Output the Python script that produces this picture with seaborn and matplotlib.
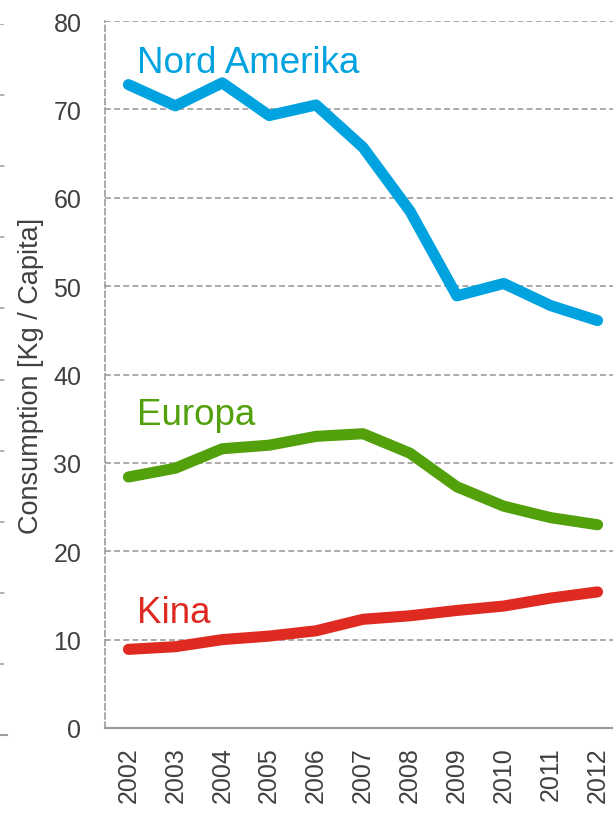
import pandas as pd
import numpy as np
import seaborn as sns
import matplotlib.pyplot as plt

# values (kg per capita)
years = ['2002', '2003', '2004', '2005', '2006', '2007', '2008', '2009', '2010', '2011', '2012']
nord_amerika = [72.8, 70.4, 73.0, 69.3, 70.5, 65.7, 58.5, 48.9, 50.3, 47.8, 46.1]
europa = [28.4, 29.4, 31.6, 32.0, 33.0, 33.3, 31.1, 27.3, 25.1, 23.8, 23.0]
kina = [8.9, 9.2, 10.0, 10.4, 11.0, 12.3, 12.7, 13.3, 13.8, 14.7, 15.4]

regions = ['Nord Amerika', 'Europa', 'Kina']
colors = {'Nord Amerika': '#00a3df', 'Europa': '#52a00c', 'Kina': '#de2a20'}
# where the series names sit (x as category index, y as value)
label_pos = {'Nord Amerika': (0.19, 74.2), 'Europa': (0.19, 34.4), 'Kina': (0.19, 12.0)}

df = pd.DataFrame({
    'year': years * 3,
    'value': nord_amerika + europa + kina,
    'region': np.repeat(regions, len(years)),
})

sns.set_style('white')
plt.rcParams['font.family'] = ['Liberation Sans', 'DejaVu Sans']

grid_col = '#9c9c9c'
txt_col = '#404040'
dash = (0, (3.5, 2))

fig = plt.figure(figsize=(6.13, 8.2), dpi=100)

# cut-off neighbouring chart on the far left
ghost = fig.add_axes([-0.1, 0.1024, 0.1 + 7 / 613, 0.867])
ghost.set_xlim(0, 1)
ghost.set_ylim(0, 10)
ghost.set_yticks(range(1, 11))
ghost.set_xticks([1])
ghost.tick_params(axis='x', length=6, width=1.1, color=grid_col, labelbottom=False)
ghost.tick_params(axis='y', length=0, labelleft=False)
ghost.grid(axis='y', color=grid_col, linestyle=dash, linewidth=1.1)
for s in ['top', 'right', 'left']:
    ghost.spines[s].set_visible(False)
ghost.spines['bottom'].set_color(grid_col)
ghost.spines['bottom'].set_linewidth(1.5)
ghost.patch.set_alpha(0)

ax = fig.add_axes([105 / 613, 91 / 820, 516 / 613, 707 / 820])
sns.lineplot(data=df, x='year', y='value', hue='region', palette=colors,
             linewidth=8, sort=False, legend=False, ax=ax,
             solid_capstyle='round', solid_joinstyle='round')

ax.set_xlim(-0.5, 10.5)
ax.set_ylim(0, 80)
ax.set_yticks(range(0, 81, 10))
ax.set_xticks(range(len(years)))
ax.set_xticklabels(years, rotation=90)
ax.set_xticks(np.arange(-0.5, 11, 1), minor=True)

ax.grid(axis='y', color=grid_col, linestyle=dash, linewidth=1.2)
ax.set_axisbelow(True)
ax.spines['top'].set_visible(False)
ax.spines['right'].set_visible(False)
ax.spines['left'].set_color(grid_col)
ax.spines['left'].set_linestyle(dash)
ax.spines['left'].set_linewidth(1.2)
ax.spines['bottom'].set_color(grid_col)
ax.spines['bottom'].set_linewidth(1.6)

ax.tick_params(axis='y', length=5, width=1.2, color=grid_col, pad=12,
               labelsize=18, labelcolor=txt_col)
ax.tick_params(axis='x', which='major', length=0, pad=13, labelsize=18, labelcolor=txt_col)
ax.tick_params(axis='x', which='minor', length=6, width=1.5, color=grid_col)

ax.set_xlabel('')
ax.set_ylabel('Consumption [Kg / Capita]', fontsize=19.5, color=txt_col)
ax.yaxis.set_label_coords(-0.118, 0.5)

for name in regions:
    x, y = label_pos[name]
    ax.text(x, y, name, color=colors[name], fontsize=26.5, ha='left', va='baseline')

plt.savefig('out.png', dpi=100)
